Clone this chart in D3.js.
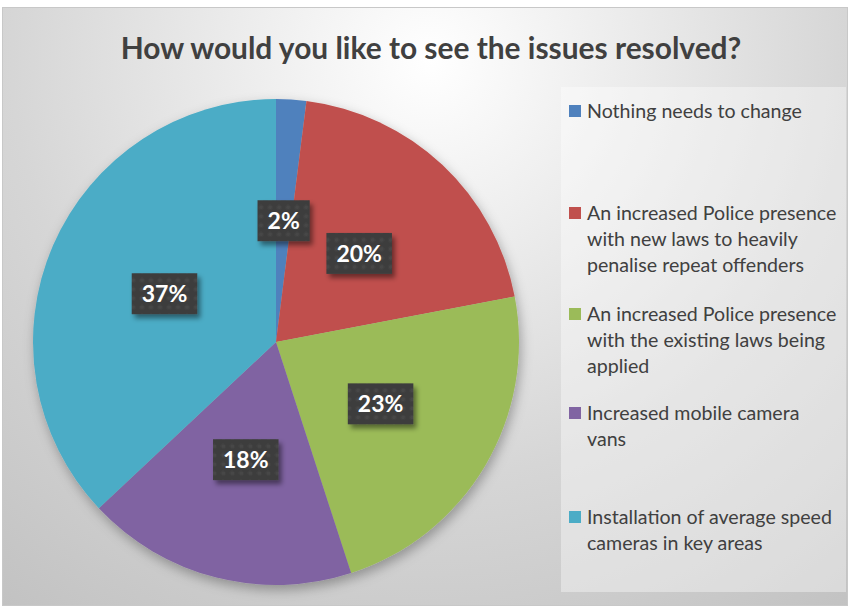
<!DOCTYPE html>
<html>
<head>
<meta charset="utf-8">
<script src="https://cdn.jsdelivr.net/npm/d3@7"></script>
<style>
  body { margin: 0; background: #fff; }
  svg text { font-family: Lato, "Open Sans", sans-serif; }
</style>
</head>
<body>
<div id="chart"></div>
<script>
// chart data
var title = "How would you like to see the issues resolved?";
var categories = [
    "Nothing needs to change",
    "An increased Police presence with new laws to heavily penalise repeat offenders",
    "An increased Police presence with the existing laws being applied",
    "Increased mobile camera vans",
    "Installation of average speed cameras in key areas"
];
// legend text as it wraps in the original
var legendLines = [
    ["Nothing needs to change"],
    ["An increased Police presence", "with new laws to heavily", "penalise repeat offenders"],
    ["An increased Police presence", "with the existing laws being", "applied"],
    ["Increased mobile camera", "vans"],
    ["Installation of average speed", "cameras in key areas"]
];
var values = [2, 20, 23, 18, 37];
var colors = ["#4f81bd", "#c0504d", "#9bbb59", "#8064a2", "#4bacc6"];

var svgWidth = 848;
var svgHeight = 609;

var svg = d3.select("#chart")
    .append("svg")
    .attr("width", svgWidth)
    .attr("height", svgHeight);

var defs = svg.append("defs");

// background radial gradient
var bg = defs.append("radialGradient")
    .attr("id", "bgGrad")
    .attr("gradientUnits", "userSpaceOnUse")
    .attr("cx", 430).attr("cy", 60).attr("r", 760);
bg.append("stop").attr("offset", 0).attr("stop-color", "#ffffff");
bg.append("stop").attr("offset", 0.55).attr("stop-color", "#d6d6d6");
bg.append("stop").attr("offset", 1).attr("stop-color", "#bdbdbd");

// dotted pattern for the data label boxes
var pat = defs.append("pattern")
    .attr("id", "dots")
    .attr("patternUnits", "userSpaceOnUse")
    .attr("width", 9).attr("height", 9);
pat.append("rect").attr("width", 9).attr("height", 9).attr("fill", "#3e3e3e");
pat.append("circle").attr("cx", 4.5).attr("cy", 4.5).attr("r", 2)
    .attr("fill", "#474747");

// shadows
var pieShadow = defs.append("filter").attr("id", "pieShadow")
    .attr("x", "-20%").attr("y", "-20%").attr("width", "140%").attr("height", "140%");
pieShadow.append("feDropShadow")
    .attr("dx", 2).attr("dy", 5).attr("stdDeviation", 6)
    .attr("flood-color", "#000").attr("flood-opacity", 0.3);

var boxShadow = defs.append("filter").attr("id", "boxShadow")
    .attr("x", "-30%").attr("y", "-30%").attr("width", "160%").attr("height", "170%");
boxShadow.append("feDropShadow")
    .attr("dx", 3).attr("dy", 4).attr("stdDeviation", 2.5)
    .attr("flood-color", "#000").attr("flood-opacity", 0.45);

// chart area
svg.append("rect")
    .attr("x", 2.5).attr("y", 7.5)
    .attr("width", 845).attr("height", 598)
    .attr("fill", "url(#bgGrad)")
    .attr("stroke", "#c8c8c8");

// title, sized to fit the original width
var titleText = svg.append("text")
    .attr("x", 431).attr("y", 59)
    .attr("text-anchor", "middle")
    .attr("font-weight", "bold")
    .attr("font-size", 26)
    .attr("fill", "#404040")
    .text(title);
var tw = titleText.node().getComputedTextLength();
titleText.attr("font-size", 26 * 621 / tw);

// pie
var cx = 276, cy = 342, radius = 243;

var pie = d3.pie().sort(null).value(d => d);
var arcs = pie(values);

var arc = d3.arc().innerRadius(0).outerRadius(radius);

var pieGroup = svg.append("g")
    .attr("transform", `translate(${cx}, ${cy})`);

pieGroup.append("g")
    .attr("filter", "url(#pieShadow)")
    .selectAll("path")
    .data(arcs)
    .enter()
    .append("path")
    .attr("d", arc)
    .attr("fill", (d, i) => colors[i]);

// data labels
var total = d3.sum(values);
var labelGroup = pieGroup.selectAll(".label")
    .data(arcs)
    .enter()
    .append("g")
    .attr("class", "label")
    .attr("transform", d => `translate(${arc.centroid(d)})`);

labelGroup.append("rect")
    .attr("fill", "url(#dots)")
    .attr("filter", "url(#boxShadow)");

labelGroup.append("text")
    .attr("text-anchor", "middle")
    .attr("dy", "0.36em")
    .attr("font-weight", "bold")
    .attr("font-size", 23)
    .attr("fill", "#ffffff")
    .text(d => Math.round(d.value / total * 100) + "%");

labelGroup.each(function () {
    var g = d3.select(this);
    var w = g.select("text").node().getComputedTextLength();
    g.select("rect")
        .attr("x", -w / 2 - 10)
        .attr("y", -20.5)
        .attr("width", w + 20)
        .attr("height", 41);
});

// legend
svg.append("rect")
    .attr("x", 561).attr("y", 87)
    .attr("width", 285).attr("height", 505)
    .attr("fill", "#ffffff")
    .attr("fill-opacity", 0.38);

var legendTop = [111, 213, 314, 413, 517];
var lineHeight = 26;

var legend = svg.selectAll(".legend")
    .data(categories)
    .enter()
    .append("g")
    .attr("class", "legend")
    .attr("transform", (d, i) => `translate(569, ${legendTop[i]})`);

legend.append("rect")
    .attr("x", 0).attr("y", -6)
    .attr("width", 12).attr("height", 12)
    .attr("fill", (d, i) => colors[i]);

legend.each(function (d, i) {
    var t = d3.select(this).append("text")
        .attr("x", 18)
        .attr("font-size", 19.6)
        .attr("fill", "#404040");
    legendLines[i].forEach(function (line, j) {
        t.append("tspan")
            .attr("x", 18)
            .attr("y", j * lineHeight)
            .attr("dy", "0.35em")
            .text(line);
    });
});
</script>
</body>
</html>
